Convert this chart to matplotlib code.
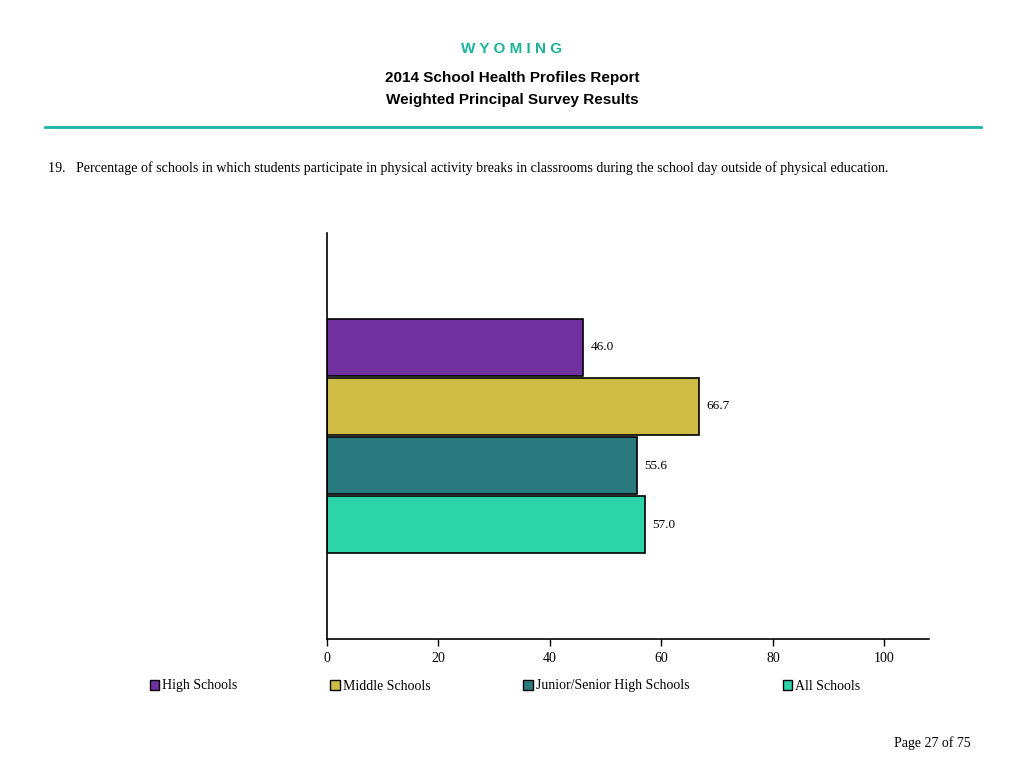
import matplotlib.pyplot as plt
from matplotlib.patches import Patch
from matplotlib.lines import Line2D

categories = ['High Schools', 'Middle Schools', 'Junior/Senior High Schools', 'All Schools']
values = [46.0, 66.7, 55.6, 57.0]
colors = ['#7030A0', '#CFBC45', '#2A7B80', '#2DD4A8']
xticks = [0, 20, 40, 60, 80, 100]

serif = ['Liberation Serif', 'DejaVu Serif']
sans = ['Liberation Sans', 'DejaVu Sans']

fig = plt.figure(figsize=(10.24, 7.68), dpi=100)

# header
fig.text(0.5, 1 - 49 / 768, 'W Y O M I N G', ha='center', va='center',
         color='#1AB39A', fontsize=11, fontweight='bold', family=sans)
fig.text(0.5, 1 - 78 / 768, '2014 School Health Profiles Report', ha='center', va='center',
         fontsize=11, fontweight='bold', family=sans)
fig.text(0.5, 1 - 100 / 768, 'Weighted Principal Survey Results', ha='center', va='center',
         fontsize=11, fontweight='bold', family=sans)
fig.add_artist(Line2D([45 / 1024, 981 / 1024], [1 - 127 / 768, 1 - 127 / 768],
                      color='#1AB3A6', lw=2))
fig.text(48 / 1024, 1 - 168 / 768,
         '19.   Percentage of schools in which students participate in physical activity breaks in classrooms '
         'during the school day outside of physical education.',
         ha='left', va='center', fontsize=10.1, family=serif)

ax = fig.add_axes([327 / 1024, 1 - 639 / 768, (929 - 327) / 1024, (639 - 233) / 768])
ypos = list(range(len(values)))
ax.barh(ypos, values, height=0.97, color=colors, edgecolor='black', linewidth=1.2)
for y, v in zip(ypos, values):
    ax.text(v + 1.4, y, f'{v:.1f}', va='center', ha='left', fontsize=9.5, family=serif)

ax.set_xlim(0, 108)
ax.set_ylim(4.94, -1.94)
ax.set_xticks(xticks)
ax.set_xticklabels([str(t) for t in xticks], family=serif, fontsize=10)
ax.set_yticks([])
ax.spines['top'].set_visible(False)
ax.spines['right'].set_visible(False)
ax.spines['left'].set_linewidth(1.2)
ax.spines['bottom'].set_linewidth(1.2)
ax.tick_params(axis='x', length=5, width=1, pad=4)

handles = [Patch(facecolor=c, edgecolor='black', linewidth=1) for c in colors]
fig.legend(handles, categories, loc='center left', bbox_to_anchor=(137 / 1024, 1 - 686 / 768),
           ncol=4, frameon=False, prop={'family': serif, 'size': 10},
           handlelength=0.7, handleheight=0.7, handletextpad=0.2, columnspacing=6.7)

fig.text(971 / 1024, 1 - 743 / 768, 'Page 27 of 75', ha='right', va='center',
         fontsize=10, family=serif)

fig.savefig('out.png', dpi=100)
